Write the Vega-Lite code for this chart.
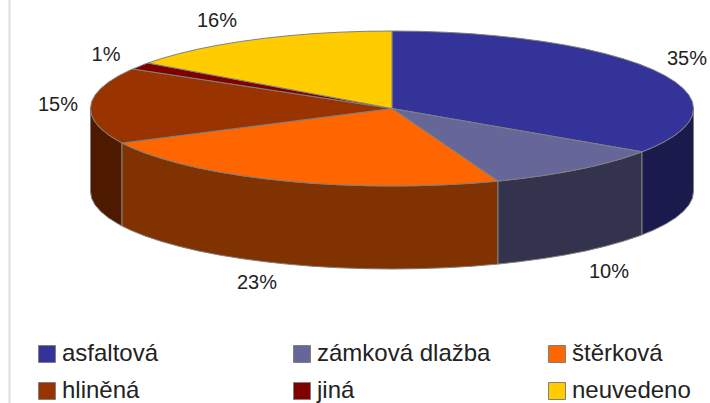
{"$schema":"https://vega.github.io/schema/vega-lite/v6.json","width":710,"height":403,"padding":0,"autosize":{"type":"none"},"background":"white","view":{"stroke":null},
"datasets":{
"edge":[{"x":9.5}],
"sides":[
{"name":"hliněná","x":122,"y":143,"y2":226},{"name":"hliněná","x":118.8,"y":141.3,"y2":224.3},{"name":"hliněná","x":108.7,"y":135,"y2":218},{"name":"hliněná","x":100.8,"y":128.6,"y2":211.6},{"name":"hliněná","x":95.1,"y":122,"y2":205},{"name":"hliněná","x":91.6,"y":115.3,"y2":198.3},{"name":"hliněná","x":90.5,"y":108.5,"y2":191.5},
{"name":"štěrková","x":498,"y":181.1,"y2":264.1},{"name":"štěrková","x":470,"y":183.4,"y2":266.4},{"name":"štěrková","x":444.4,"y":184.8,"y2":267.8},{"name":"štěrková","x":418.3,"y":185.7,"y2":268.7},{"name":"štěrková","x":392,"y":186,"y2":269},{"name":"štěrková","x":365.7,"y":185.7,"y2":268.7},{"name":"štěrková","x":339.6,"y":184.8,"y2":267.8},{"name":"štěrková","x":314,"y":183.4,"y2":266.4},{"name":"štěrková","x":288.9,"y":181.3,"y2":264.3},{"name":"štěrková","x":264.6,"y":178.7,"y2":261.7},{"name":"štěrková","x":241.2,"y":175.6,"y2":258.6},{"name":"štěrková","x":219.1,"y":172,"y2":255},{"name":"štěrková","x":198.2,"y":167.9,"y2":250.9},{"name":"štěrková","x":178.8,"y":163.3,"y2":246.3},{"name":"štěrková","x":161,"y":158.3,"y2":241.3},{"name":"štěrková","x":145,"y":153,"y2":236},{"name":"štěrková","x":130.9,"y":147.3,"y2":230.3},{"name":"štěrková","x":122,"y":143,"y2":226},
{"name":"zámková dlažba","x":642,"y":151.8,"y2":234.8},{"name":"zámková dlažba","x":639,"y":153,"y2":236},{"name":"zámková dlažba","x":623,"y":158.3,"y2":241.3},{"name":"zámková dlažba","x":605.2,"y":163.3,"y2":246.3},{"name":"zámková dlažba","x":585.8,"y":167.9,"y2":250.9},{"name":"zámková dlažba","x":564.9,"y":172,"y2":255},{"name":"zámková dlažba","x":542.8,"y":175.6,"y2":258.6},{"name":"zámková dlažba","x":519.4,"y":178.7,"y2":261.7},{"name":"zámková dlažba","x":498,"y":181.1,"y2":264.1},
{"name":"asfaltová","x":693.5,"y":108.5,"y2":191.5},{"name":"asfaltová","x":692.4,"y":115.3,"y2":198.3},{"name":"asfaltová","x":688.9,"y":122,"y2":205},{"name":"asfaltová","x":683.2,"y":128.6,"y2":211.6},{"name":"asfaltová","x":675.3,"y":135,"y2":218},{"name":"asfaltová","x":665.2,"y":141.3,"y2":224.3},{"name":"asfaltová","x":653.1,"y":147.3,"y2":230.3},{"name":"asfaltová","x":642,"y":151.8,"y2":234.8}
],
"tops":[
{"name":"asfaltová","order":0,"x":392,"y":108.5},{"name":"asfaltová","order":1,"x":392,"y":31},{"name":"asfaltová","order":2,"x":418.3,"y":31.3},{"name":"asfaltová","order":3,"x":444.4,"y":32.2},{"name":"asfaltová","order":4,"x":470,"y":33.6},{"name":"asfaltová","order":5,"x":495.1,"y":35.7},{"name":"asfaltová","order":6,"x":519.4,"y":38.3},{"name":"asfaltová","order":7,"x":542.8,"y":41.4},{"name":"asfaltová","order":8,"x":564.9,"y":45},{"name":"asfaltová","order":9,"x":585.8,"y":49.1},{"name":"asfaltová","order":10,"x":605.2,"y":53.7},{"name":"asfaltová","order":11,"x":623,"y":58.7},{"name":"asfaltová","order":12,"x":639,"y":64},{"name":"asfaltová","order":13,"x":653.1,"y":69.7},{"name":"asfaltová","order":14,"x":665.2,"y":75.7},{"name":"asfaltová","order":15,"x":675.3,"y":82},{"name":"asfaltová","order":16,"x":683.2,"y":88.4},{"name":"asfaltová","order":17,"x":688.9,"y":95},{"name":"asfaltová","order":18,"x":692.4,"y":101.7},{"name":"asfaltová","order":19,"x":693.5,"y":108.5},{"name":"asfaltová","order":20,"x":692.4,"y":115.3},{"name":"asfaltová","order":21,"x":688.9,"y":122},{"name":"asfaltová","order":22,"x":683.2,"y":128.6},{"name":"asfaltová","order":23,"x":675.3,"y":135},{"name":"asfaltová","order":24,"x":665.2,"y":141.3},{"name":"asfaltová","order":25,"x":653.1,"y":147.3},{"name":"asfaltová","order":26,"x":642,"y":151.8},{"name":"asfaltová","order":27,"x":392,"y":108.5},
{"name":"zámková dlažba","order":0,"x":392,"y":108.5},{"name":"zámková dlažba","order":1,"x":642,"y":151.8},{"name":"zámková dlažba","order":2,"x":639,"y":153},{"name":"zámková dlažba","order":3,"x":623,"y":158.3},{"name":"zámková dlažba","order":4,"x":605.2,"y":163.3},{"name":"zámková dlažba","order":5,"x":585.8,"y":167.9},{"name":"zámková dlažba","order":6,"x":564.9,"y":172},{"name":"zámková dlažba","order":7,"x":542.8,"y":175.6},{"name":"zámková dlažba","order":8,"x":519.4,"y":178.7},{"name":"zámková dlažba","order":9,"x":498,"y":181.1},{"name":"zámková dlažba","order":10,"x":392,"y":108.5},
{"name":"štěrková","order":0,"x":392,"y":108.5},{"name":"štěrková","order":1,"x":498,"y":181.1},{"name":"štěrková","order":2,"x":470,"y":183.4},{"name":"štěrková","order":3,"x":444.4,"y":184.8},{"name":"štěrková","order":4,"x":418.3,"y":185.7},{"name":"štěrková","order":5,"x":392,"y":186},{"name":"štěrková","order":6,"x":365.7,"y":185.7},{"name":"štěrková","order":7,"x":339.6,"y":184.8},{"name":"štěrková","order":8,"x":314,"y":183.4},{"name":"štěrková","order":9,"x":288.9,"y":181.3},{"name":"štěrková","order":10,"x":264.6,"y":178.7},{"name":"štěrková","order":11,"x":241.2,"y":175.6},{"name":"štěrková","order":12,"x":219.1,"y":172},{"name":"štěrková","order":13,"x":198.2,"y":167.9},{"name":"štěrková","order":14,"x":178.8,"y":163.3},{"name":"štěrková","order":15,"x":161,"y":158.3},{"name":"štěrková","order":16,"x":145,"y":153},{"name":"štěrková","order":17,"x":130.9,"y":147.3},{"name":"štěrková","order":18,"x":122,"y":143},{"name":"štěrková","order":19,"x":392,"y":108.5},
{"name":"hliněná","order":0,"x":392,"y":108.5},{"name":"hliněná","order":1,"x":122,"y":143},{"name":"hliněná","order":2,"x":118.8,"y":141.3},{"name":"hliněná","order":3,"x":108.7,"y":135},{"name":"hliněná","order":4,"x":100.8,"y":128.6},{"name":"hliněná","order":5,"x":95.1,"y":122},{"name":"hliněná","order":6,"x":91.6,"y":115.3},{"name":"hliněná","order":7,"x":90.5,"y":108.5},{"name":"hliněná","order":8,"x":91.6,"y":101.7},{"name":"hliněná","order":9,"x":95.1,"y":95},{"name":"hliněná","order":10,"x":100.8,"y":88.4},{"name":"hliněná","order":11,"x":108.7,"y":82},{"name":"hliněná","order":12,"x":118.8,"y":75.7},{"name":"hliněná","order":13,"x":130.9,"y":69.7},{"name":"hliněná","order":14,"x":133,"y":69},{"name":"hliněná","order":15,"x":392,"y":108.5},
{"name":"jiná","order":0,"x":392,"y":108.5},{"name":"jiná","order":1,"x":133,"y":69},{"name":"jiná","order":2,"x":145,"y":64},{"name":"jiná","order":3,"x":148,"y":63},{"name":"jiná","order":4,"x":392,"y":108.5},
{"name":"neuvedeno","order":0,"x":392,"y":108.5},{"name":"neuvedeno","order":1,"x":148,"y":63},{"name":"neuvedeno","order":2,"x":161,"y":58.7},{"name":"neuvedeno","order":3,"x":178.8,"y":53.7},{"name":"neuvedeno","order":4,"x":198.2,"y":49.1},{"name":"neuvedeno","order":5,"x":219.1,"y":45},{"name":"neuvedeno","order":6,"x":241.2,"y":41.4},{"name":"neuvedeno","order":7,"x":264.6,"y":38.3},{"name":"neuvedeno","order":8,"x":288.9,"y":35.7},{"name":"neuvedeno","order":9,"x":314,"y":33.6},{"name":"neuvedeno","order":10,"x":339.6,"y":32.2},{"name":"neuvedeno","order":11,"x":365.7,"y":31.3},{"name":"neuvedeno","order":12,"x":392,"y":31},{"name":"neuvedeno","order":13,"x":392,"y":108.5}
],
"labels":[
{"label":"35%","x":687,"y":59},{"label":"10%","x":609,"y":272},{"label":"23%","x":257,"y":283},{"label":"15%","x":58,"y":105},{"label":"1%","x":106,"y":55},{"label":"16%","x":217,"y":21}
]},
"resolve":{"scale":{"color":"independent"}},
"layer":[
{"data":{"name":"edge"},"mark":{"type":"rule","color":"#e4e4e4","strokeWidth":2.5},"encoding":{"x":{"field":"x","type":"quantitative","scale":{"domain":[0,710],"nice":false,"zero":false},"axis":null}}},
{"data":{"name":"sides"},"mark":{"type":"area","stroke":"#808080","strokeWidth":1,"opacity":1},"encoding":{
"x":{"field":"x","type":"quantitative","scale":{"domain":[0,710],"nice":false,"zero":false},"axis":null},
"y":{"field":"y","type":"quantitative","scale":{"domain":[403,0],"nice":false,"zero":false},"axis":null},
"y2":{"field":"y2"},
"color":{"field":"name","type":"nominal","legend":null,"scale":{"domain":["asfaltová","zámková dlažba","štěrková","hliněná"],"range":["#1a1a4d","#33334d","#803300","#4d1a00"]}}}},
{"data":{"name":"tops"},"mark":{"type":"line","filled":true,"stroke":"#808080","strokeWidth":1,"opacity":1},"encoding":{
"x":{"field":"x","type":"quantitative","scale":{"domain":[0,710],"nice":false,"zero":false},"axis":null},
"y":{"field":"y","type":"quantitative","scale":{"domain":[403,0],"nice":false,"zero":false},"axis":null},
"order":{"field":"order","type":"quantitative"},
"color":{"field":"name","type":"nominal","scale":{"domain":["asfaltová","zámková dlažba","štěrková","hliněná","jiná","neuvedeno"],"range":["#333399","#666699","#ff6600","#993300","#800000","#ffcc00"]},
"legend":{"title":null,"orient":"none","legendX":35,"legendY":342,"columns":3,"direction":"horizontal","gridAlign":"all","columnPadding":54,"rowPadding":13,"padding":0,"symbolType":"square","symbolSize":289,"symbolStrokeColor":"#808080","symbolStrokeWidth":1,"symbolOpacity":1,"labelFont":"Liberation Sans","labelFontSize":24,"labelColor":"#222222","labelOffset":3,"labelLimit":300}}}},
{"data":{"name":"labels"},"mark":{"type":"text","font":"Liberation Sans","fontSize":20,"color":"#222222","align":"center","baseline":"middle"},"encoding":{
"x":{"field":"x","type":"quantitative","scale":{"domain":[0,710],"nice":false,"zero":false},"axis":null},
"y":{"field":"y","type":"quantitative","scale":{"domain":[403,0],"nice":false,"zero":false},"axis":null},
"text":{"field":"label","type":"nominal"}}}
]}
